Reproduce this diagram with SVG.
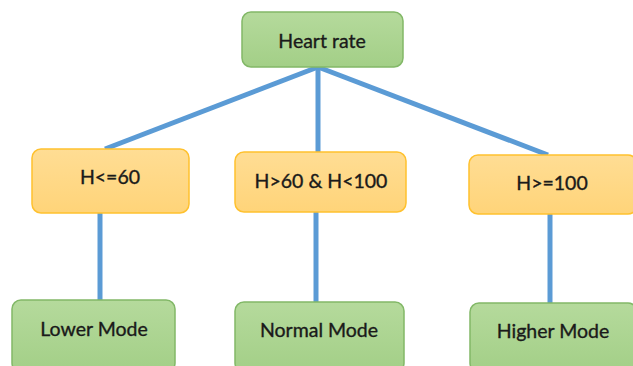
<svg xmlns="http://www.w3.org/2000/svg" width="633" height="366" viewBox="0 0 633 366">
<defs>
<linearGradient id="g" x1="0" y1="0" x2="0" y2="1">
<stop offset="0" stop-color="#b5da9c"/>
<stop offset="1" stop-color="#a3cf87"/>
</linearGradient>
<linearGradient id="o" x1="0" y1="0" x2="0" y2="1">
<stop offset="0" stop-color="#ffdd94"/>
<stop offset="1" stop-color="#ffd479"/>
</linearGradient>
<style>
.gn{fill:url(#g);stroke:#82b867;stroke-width:1.5}
.on{fill:url(#o);stroke:#ffc12e;stroke-width:1.5}
.t{font-family:Lato,"Open Sans",sans-serif;font-size:19.5px;fill:#1a1a1a;stroke:#1a1a1a;stroke-width:0.35;text-anchor:middle;dominant-baseline:central}
.c{stroke:#5b9bd5;stroke-width:5;fill:none}
</style>
</defs>
<rect width="633" height="366" fill="#ffffff"/>
<g id="connectors">
<line class="c" x1="318" y1="67" x2="105" y2="149"/>
<line class="c" x1="318" y1="67" x2="318" y2="152"/>
<line class="c" x1="318" y1="67" x2="548" y2="155"/>
<line class="c" x1="100" y1="213" x2="100" y2="300"/>
<line class="c" x1="316" y1="212" x2="316" y2="302"/>
<line class="c" x1="550" y1="214" x2="550" y2="303"/>
</g>
<g id="heart-rate">
<rect class="gn" x="242" y="12" width="161" height="55" rx="9"/>
<text class="t" x="322" y="40">Heart rate</text>
</g>
<g id="h-le-60">
<rect class="on" x="32" y="149" width="157" height="64" rx="9"/>
<text class="t" x="110" y="176">H&lt;=60</text>
</g>
<g id="h-mid">
<rect class="on" x="235" y="152" width="171" height="60" rx="9"/>
<text class="t" x="321" y="180">H&gt;60 &amp; H&lt;100</text>
</g>
<g id="h-ge-100">
<rect class="on" x="469" y="155" width="168" height="59" rx="9"/>
<text class="t" x="552" y="182">H&gt;=100</text>
</g>
<g id="lower-mode">
<rect class="gn" x="12" y="300" width="163" height="72" rx="9"/>
<text class="t" x="94" y="328">Lower Mode</text>
</g>
<g id="normal-mode">
<rect class="gn" x="235" y="302" width="169" height="70" rx="9"/>
<text class="t" x="319" y="329">Normal Mode</text>
</g>
<g id="higher-mode">
<rect class="gn" x="470" y="303" width="167" height="69" rx="9"/>
<text class="t" x="553" y="330">Higher Mode</text>
</g>
</svg>
